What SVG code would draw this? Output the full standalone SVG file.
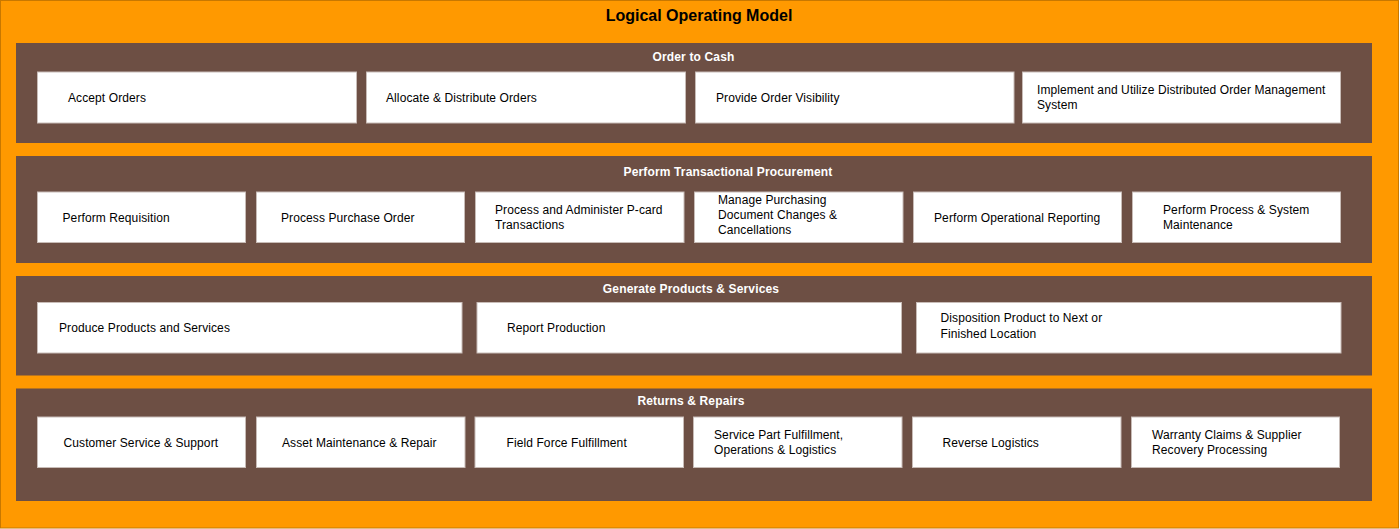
<svg xmlns="http://www.w3.org/2000/svg" width="1400" height="529" viewBox="0 0 1400 529">
<style>
.bg{fill:#ff9900;stroke:#c87800;stroke-width:1}
.sec{fill:#6d4f44}
.box{fill:#ffffff;stroke:#c8bcb7;stroke-width:1}
.title{font-family:"Liberation Sans",Arial,sans-serif;font-size:16px;font-weight:bold;fill:#000;text-anchor:middle}
.st{font-family:"Liberation Sans",Arial,sans-serif;font-size:12px;font-weight:bold;fill:#ffffff;text-anchor:middle;letter-spacing:0.15px}
.t{font-family:"Liberation Sans",Arial,sans-serif;font-size:12px;fill:#000;letter-spacing:0.1px}
</style>
<rect class="bg" x="0.5" y="0.5" width="1398" height="527.5"/>
<text class="title" x="699" y="21">Logical Operating Model</text>

<g id="order-to-cash">
<rect class="sec" x="16" y="43" width="1356" height="100"/>
<text class="st" x="693.5" y="60.5">Order to Cash</text>
<g id="accept-orders"><rect class="box" x="37.5" y="72" width="319" height="51"/><text class="t" x="68" y="102">Accept Orders</text></g>
<g id="allocate-distribute"><rect class="box" x="366.5" y="72" width="319" height="51"/><text class="t" x="386" y="102">Allocate &amp; Distribute Orders</text></g>
<g id="order-visibility"><rect class="box" x="695.5" y="72" width="318.5" height="51"/><text class="t" x="716" y="102">Provide Order Visibility</text></g>
<g id="distributed-oms"><rect class="box" x="1022.5" y="72" width="318" height="51"/><text class="t" x="1037" y="94.2">Implement and Utilize Distributed Order Management</text><text class="t" x="1037" y="109.2">System</text></g>
</g>

<g id="transactional-procurement">
<rect class="sec" x="16" y="156" width="1356" height="107"/>
<text class="st" x="728" y="175.5">Perform Transactional Procurement</text>
<g id="perform-requisition"><rect class="box" x="37.5" y="192" width="208" height="50.5"/><text class="t" x="62.5" y="221.8">Perform Requisition</text></g>
<g id="process-po"><rect class="box" x="256.5" y="192" width="208" height="50.5"/><text class="t" x="281" y="221.8">Process Purchase Order</text></g>
<g id="p-card"><rect class="box" x="475.5" y="192" width="208.5" height="50.5"/><text class="t" x="495" y="213.5">Process and Administer P-card</text><text class="t" x="495" y="228.9">Transactions</text></g>
<g id="doc-changes"><rect class="box" x="694.5" y="192" width="208.5" height="50.5"/><text class="t" x="718" y="203.5">Manage Purchasing</text><text class="t" x="718" y="218.6">Document Changes &amp;</text><text class="t" x="718" y="234.2">Cancellations</text></g>
<g id="operational-reporting"><rect class="box" x="913.5" y="192" width="208" height="50.5"/><text class="t" x="934" y="221.8">Perform Operational Reporting</text></g>
<g id="system-maintenance"><rect class="box" x="1132.5" y="192" width="208" height="50.5"/><text class="t" x="1163" y="213.5">Perform Process &amp; System</text><text class="t" x="1163" y="228.9">Maintenance</text></g>
</g>

<g id="generate-products">
<rect class="sec" x="16" y="276" width="1356" height="99.5"/>
<text class="st" x="691" y="292.5">Generate Products &amp; Services</text>
<g id="produce"><rect class="box" x="37.5" y="302.5" width="424.5" height="50.5"/><text class="t" x="59" y="332.3">Produce Products and Services</text></g>
<g id="report-production"><rect class="box" x="477" y="302.5" width="424.5" height="50.5"/><text class="t" x="507" y="332.3">Report Production</text></g>
<g id="disposition"><rect class="box" x="916.5" y="302.5" width="424.5" height="50.5"/><text class="t" x="940.5" y="322.3">Disposition Product to Next or</text><text class="t" x="940.5" y="337.6">Finished Location</text></g>
</g>

<g id="returns-repairs">
<rect class="sec" x="16" y="388.5" width="1356" height="112.5"/>
<text class="st" x="691" y="405.3">Returns &amp; Repairs</text>
<g id="customer-service"><rect class="box" x="37.5" y="417" width="208" height="50.5"/><text class="t" x="63.5" y="446.6">Customer Service &amp; Support</text></g>
<g id="asset-maintenance"><rect class="box" x="256.5" y="417" width="208.5" height="50.5"/><text class="t" x="282" y="446.6">Asset Maintenance &amp; Repair</text></g>
<g id="field-force"><rect class="box" x="475" y="417" width="208.5" height="50.5"/><text class="t" x="506.5" y="446.6">Field Force Fulfillment</text></g>
<g id="service-part"><rect class="box" x="693.5" y="417" width="208.5" height="50.5"/><text class="t" x="714" y="438.5">Service Part Fulfillment,</text><text class="t" x="714" y="453.8">Operations &amp; Logistics</text></g>
<g id="reverse-logistics"><rect class="box" x="912.5" y="417" width="208.5" height="50.5"/><text class="t" x="942.5" y="446.6">Reverse Logistics</text></g>
<g id="warranty-claims"><rect class="box" x="1131.5" y="417" width="208" height="50.5"/><text class="t" x="1152" y="438.5">Warranty Claims &amp; Supplier</text><text class="t" x="1152" y="453.8">Recovery Processing</text></g>
</g>

<g id="connectors"></g>
</svg>
